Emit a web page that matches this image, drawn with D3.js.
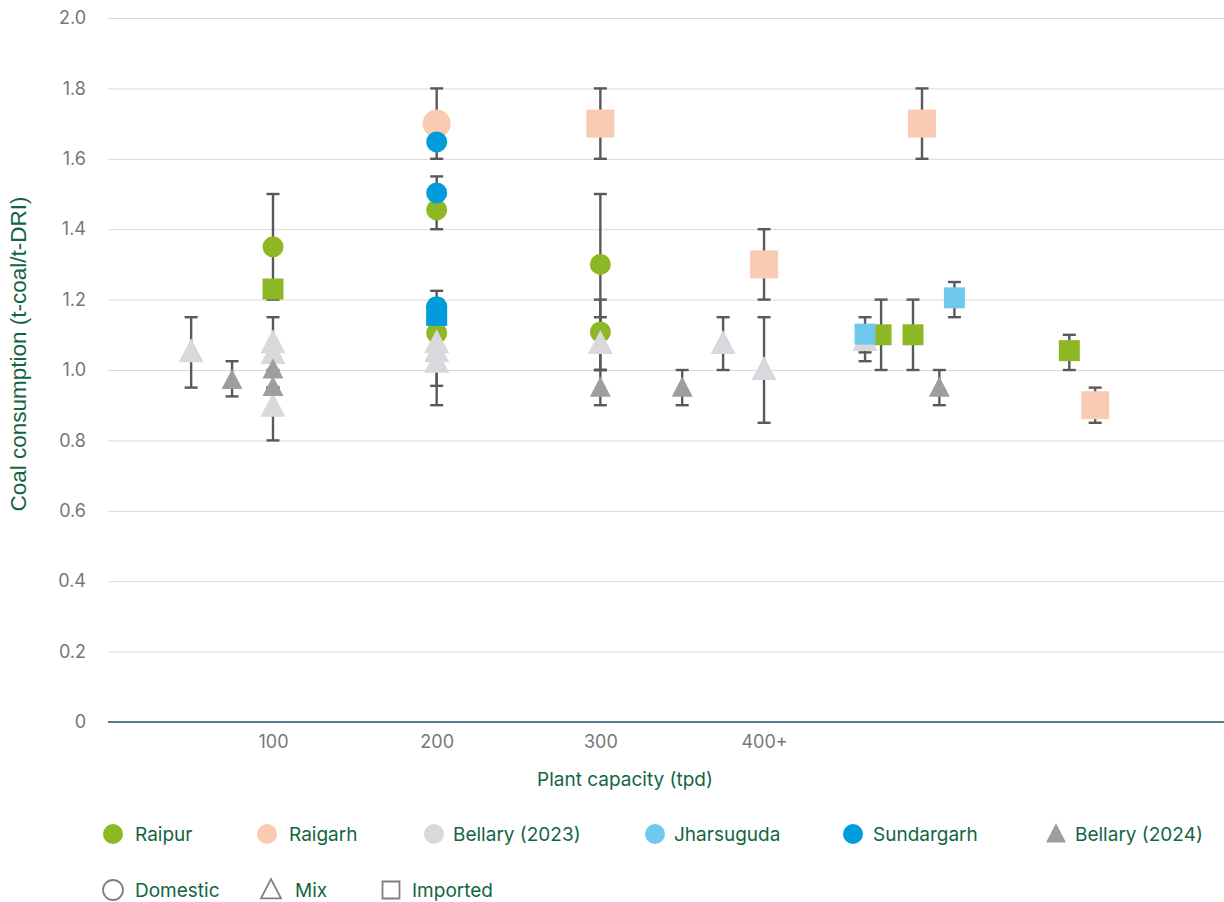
<!DOCTYPE html>
<html>
<head>
<meta charset="utf-8">
<script src="https://cdn.jsdelivr.net/npm/d3@7"></script>
<style>
  html, body { margin: 0; padding: 0; background: #ffffff; }
  svg { display: block; }
</style>
</head>
<body>
<svg id="chart" width="1224" height="902"></svg>
<script>
// ---- Data: coal consumption by plant capacity, per district ----
// Each district: capacity (tpd), mean consumption, error-bar low/high, coal type.
const raipurX    = [100, 100, 200, 200, 300, 300, 471.5, 491, 586.5];
const raipurY    = [1.35, 1.23, 1.455, 1.105, 1.30, 1.108, 1.10, 1.10, 1.055];
const raipurLow  = [1.2, null, 1.4, 1.05, 1.1, 1.0, 1.0, 1.0, 1.0];
const raipurHigh = [1.5, null, 1.5, 1.2, 1.5, 1.2, 1.2, 1.2, 1.1];
const raipurCoal = ["Domestic", "Imported", "Domestic", "Domestic", "Domestic", "Domestic", "Imported", "Imported", "Imported"];

const raigarhX    = [200, 300, 400, 496.5, 602.3];
const raigarhY    = [1.70, 1.70, 1.30, 1.70, 0.90];
const raigarhLow  = [1.6, 1.6, 1.2, 1.6, 0.85];
const raigarhHigh = [1.8, 1.8, 1.4, 1.8, 0.95];
const raigarhCoal = ["Domestic", "Imported", "Imported", "Imported", "Imported"];

const bellary23X    = [50, 100, 100, 100, 200, 200, 200, 300, 375, 400, 461.7];
const bellary23Y    = [1.045, 1.07, 1.04, 0.89, 1.07, 1.045, 1.015, 1.068, 1.068, 0.994, 1.077];
const bellary23Low  = [0.95, 1.0, null, 0.8, 0.9, null, 0.955, 1.0, 1.0, 0.85, 1.025];
const bellary23High = [1.15, 1.15, null, 0.95, 1.2, null, 1.1, 1.15, 1.15, 1.15, 1.1];
const bellary23Coal = ["Mix", "Mix", "Mix", "Mix", "Mix", "Mix", "Mix", "Mix", "Mix", "Mix", "Mix"];

const bellary24X    = [75, 100, 100, 300, 350, 507.1];
const bellary24Y    = [0.965, 0.995, 0.945, 0.943, 0.943, 0.943];
const bellary24Low  = [0.925, 0.95, null, 0.9, 0.9, 0.9];
const bellary24High = [1.025, 1.05, null, 1.0, 1.0, 1.0];
const bellary24Coal = ["Mix", "Mix", "Mix", "Mix", "Mix", "Mix"];

const jharsugudaX    = [461.7, 516.3];
const jharsugudaY    = [1.102, 1.205];
const jharsugudaLow  = [1.05, 1.15];
const jharsugudaHigh = [1.15, 1.25];
const jharsugudaCoal = ["Imported", "Imported"];

const sundargarhX    = [200, 200, 200, 200];
const sundargarhY    = [1.648, 1.503, 1.18, 1.155];
const sundargarhLow  = [null, 1.45, 1.15, null];
const sundargarhHigh = [null, 1.55, 1.225, null];
const sundargarhCoal = ["Domestic", "Domestic", "Domestic", "Imported"];

// Axis ticks
const xTickValues = [100, 200, 300, 400];
const xTickLabels = ["100", "200", "300", "400+"];
const yTickValues = [0, 0.2, 0.4, 0.6, 0.8, 1.0, 1.2, 1.4, 1.6, 1.8, 2.0];
const yTickLabels = ["0", "0.2", "0.4", "0.6", "0.8", "1.0", "1.2", "1.4", "1.6", "1.8", "2.0"];

// Legend entries
const districtNames  = ["Raipur", "Raigarh", "Bellary (2023)", "Jharsuguda", "Sundargarh", "Bellary (2024)"];
const districtColors = ["#8db824", "#f9cbb2", "#d8d8dd", "#6ec9ec", "#009cdb", "#9e9e9e"];
const coalTypes      = ["Domestic", "Mix", "Imported"];

// ---- Series table (drawing order: later series on top) ----
function makeSeries(name, color, size, xs, ys, lows, highs, coal) {
  return xs.map((x, i) => ({ name, color, size, x, y: ys[i], low: lows[i], high: highs[i], coal: coal[i] }));
}
const seriesList = [
  makeSeries("Raipur", districtColors[0], 21, raipurX, raipurY, raipurLow, raipurHigh, raipurCoal),
  makeSeries("Raigarh", districtColors[1], 28, raigarhX, raigarhY, raigarhLow, raigarhHigh, raigarhCoal),
  makeSeries("Bellary (2023)", districtColors[2], 25, bellary23X, bellary23Y, bellary23Low, bellary23High, bellary23Coal),
  makeSeries("Bellary (2024)", districtColors[5], 21, bellary24X, bellary24Y, bellary24Low, bellary24High, bellary24Coal),
  makeSeries("Jharsuguda", districtColors[3], 21, jharsugudaX, jharsugudaY, jharsugudaLow, jharsugudaHigh, jharsugudaCoal),
  makeSeries("Sundargarh", districtColors[4], 21, sundargarhX, sundargarhY, sundargarhLow, sundargarhHigh, sundargarhCoal)
];
const allPoints = seriesList.flat();

// ---- Layout ----
const svg = d3.select("#chart");
const plotLeft = 108, plotRight = 1224, plotTop = 18, plotBottom = 722;
const x = d3.scaleLinear().domain([0, 681]).range([109.3, plotRight]);
const y = d3.scaleLinear().domain([0, 2]).range([plotBottom, plotTop]);

const tickFont = "Inter, 'Noto Sans', sans-serif";
const labelColor = "#13653f";

// Horizontal gridlines
const grid = svg.append("g")
  .attr("transform", `translate(${plotLeft},0)`)
  .call(d3.axisLeft(y).tickValues(yTickValues.filter(v => v > 0)).tickSize(-(plotRight - plotLeft)).tickFormat(""));
grid.select(".domain").remove();
grid.selectAll("line").attr("stroke", "#d9d9d9").attr("stroke-width", 1);

// Y tick labels
const yAxis = svg.append("g")
  .attr("transform", "translate(86,0)")
  .call(d3.axisLeft(y).tickValues(yTickValues).tickSize(0).tickPadding(0)
    .tickFormat((d, i) => yTickLabels[i]));
yAxis.select(".domain").remove();
yAxis.selectAll("text")
  .attr("font-family", tickFont).attr("font-size", 18).attr("fill", "#777777");

// X axis baseline and tick labels
const xAxis = svg.append("g")
  .attr("transform", `translate(0,${plotBottom})`)
  .call(d3.axisBottom(x).tickValues(xTickValues).tickSize(0).tickPadding(13)
    .tickFormat((d, i) => xTickLabels[i]));
xAxis.select(".domain").remove();
xAxis.selectAll("text")
  .attr("font-family", tickFont).attr("font-size", 18).attr("fill", "#777777");
svg.append("line")
  .attr("x1", plotLeft).attr("x2", plotRight)
  .attr("y1", y(0)).attr("y2", y(0))
  .attr("stroke", "#24506a").attr("stroke-width", 1.3);

// Axis titles
svg.append("text")
  .attr("x", 625).attr("y", 786)
  .attr("text-anchor", "middle")
  .attr("font-family", tickFont).attr("font-size", 19).attr("fill", labelColor)
  .text("Plant capacity (tpd)");

svg.append("text")
  .attr("transform", `translate(26,354) rotate(-90)`)
  .attr("text-anchor", "middle")
  .attr("font-family", "'Liberation Sans Narrow', 'Arial Narrow', 'Liberation Sans', sans-serif")
  .attr("font-stretch", "condensed")
  .attr("font-size", 22.5).attr("fill", labelColor)
  .text("Coal consumption (t-coal/t-DRI)");

// ---- Marker shapes ----
function markerPath(coal, s) {
  const p = d3.path();
  if (coal === "Domestic") {
    p.arc(0, 0, s / 2, 0, 2 * Math.PI);
  } else if (coal === "Imported") {
    p.rect(-s / 2, -s / 2, s, s);
  } else {
    // triangle with centroid at origin
    const h = s * 0.96, w = s;
    p.moveTo(0, -2 * h / 3);
    p.lineTo(w / 2, h / 3);
    p.lineTo(-w / 2, h / 3);
    p.closePath();
  }
  return p.toString();
}

// ---- Error bars (behind all markers) ----
const bars = allPoints.filter(d => d.low != null && d.high != null);
const barG = svg.append("g").attr("stroke", "#595959").attr("stroke-width", 2.4);
barG.selectAll("line.stem").data(bars).join("line")
  .attr("class", "stem")
  .attr("x1", d => x(d.x)).attr("x2", d => x(d.x))
  .attr("y1", d => y(d.low)).attr("y2", d => y(d.high));
barG.selectAll("line.capLow").data(bars).join("line")
  .attr("class", "capLow")
  .attr("x1", d => x(d.x) - 6.5).attr("x2", d => x(d.x) + 6.5)
  .attr("y1", d => y(d.low)).attr("y2", d => y(d.low));
barG.selectAll("line.capHigh").data(bars).join("line")
  .attr("class", "capHigh")
  .attr("x1", d => x(d.x) - 6.5).attr("x2", d => x(d.x) + 6.5)
  .attr("y1", d => y(d.high)).attr("y2", d => y(d.high));

// ---- Markers, series by series ----
seriesList.forEach(series => {
  svg.append("g").selectAll("path").data(series).join("path")
    .attr("transform", d => `translate(${x(d.x)},${y(d.y)})`)
    .attr("d", d => markerPath(d.coal, d.size))
    .attr("fill", d => d.color);
});

// ---- Legend ----
const legendFont = tickFont;
const row1X = [113, 267, 434, 655, 853, 1056];
const row1TextX = [135, 289, 453, 674, 873, 1075];
const legend1 = svg.append("g");
districtNames.forEach((name, i) => {
  const shape = name === "Bellary (2024)" ? "Mix" : "Domestic";
  legend1.append("path")
    .attr("transform", `translate(${row1X[i]},${shape === "Mix" ? 836 : 834})`)
    .attr("d", markerPath(shape, 20))
    .attr("fill", districtColors[i]);
  legend1.append("text")
    .attr("x", row1TextX[i]).attr("y", 834).attr("dy", "0.35em")
    .attr("font-family", legendFont).attr("font-size", 19).attr("fill", labelColor)
    .text(name);
});

const row2X = [113, 271, 391];
const row2TextX = [135, 295, 412];
const legend2 = svg.append("g");
coalTypes.forEach((name, i) => {
  legend2.append("path")
    .attr("transform", `translate(${row2X[i]},${name === "Mix" ? 892 : 890})`)
    .attr("d", markerPath(name, name === "Imported" ? 17 : 20))
    .attr("fill", "none").attr("stroke", "#7f7f7f").attr("stroke-width", 1.8);
  legend2.append("text")
    .attr("x", row2TextX[i]).attr("y", 890).attr("dy", "0.35em")
    .attr("font-family", legendFont).attr("font-size", 19).attr("fill", labelColor)
    .text(name);
});
</script>
</body>
</html>
